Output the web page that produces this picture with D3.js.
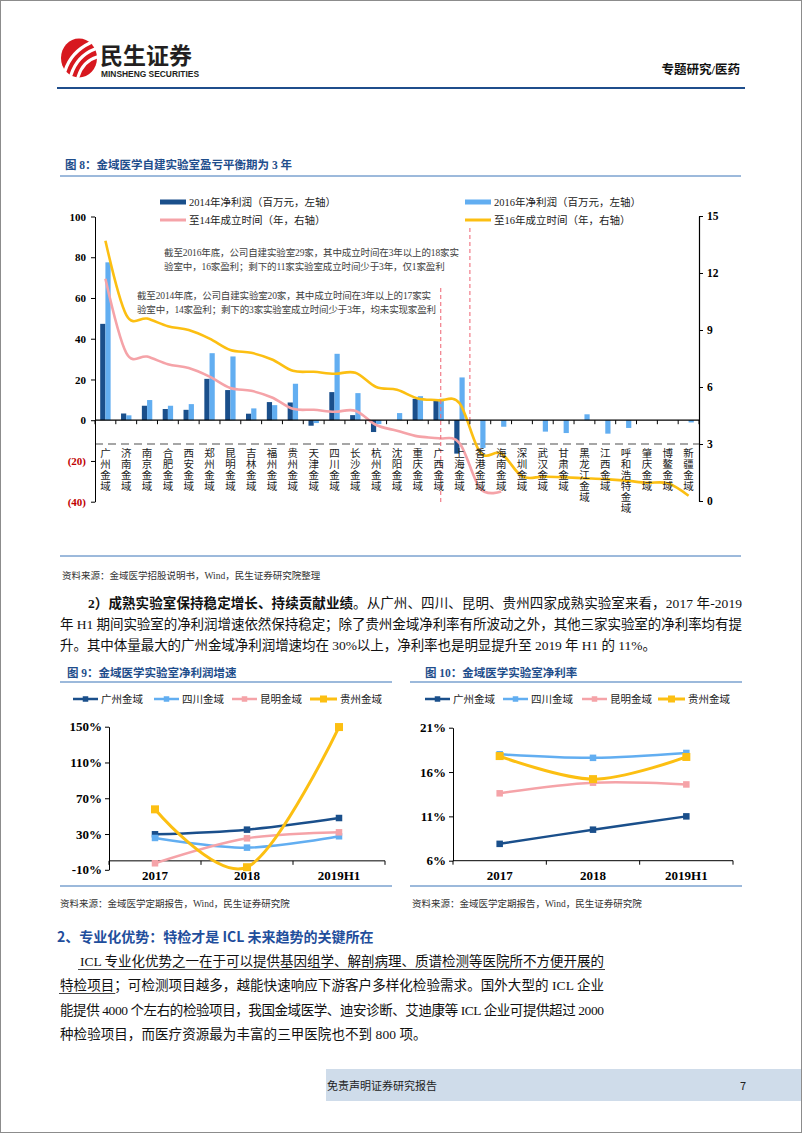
<!DOCTYPE html>
<html><head><meta charset="utf-8">
<script src="https://cdn.jsdelivr.net/npm/d3@7"></script>
<style>body{margin:0;background:#fff}svg{display:block}</style>
</head><body>
<svg id="page" width="802" height="1133"></svg>
<script>
// ---------------- DATA ----------------
const cats8 = ["广州金域","济南金域","南京金域","合肥金域","西安金域","郑州金域","昆明金域","吉林金域","福州金域","贵州金域","天津金域","四川金域","长沙金域","杭州金域","沈阳金域","重庆金域","广西金域","上海金域","香港金域","海南金域","深圳金域","武汉金域","甘肃金域","黑龙江金域","江西金域","呼和浩特金域","肇庆金域","博鳌金域","新疆金域"];
const profit2014 = [47.3,3.3,7.1,5.5,5.1,20.3,14.8,3.2,8.9,8.7,-2.7,13.8,2.5,-5.8,null,10.5,9.6,-16.4,null,null,null,null,null,null,null,null,null,null,null];
const profit2016 = [77.5,2.4,9.9,7.1,7.9,32.9,31.3,5.8,7.4,17.9,-1.4,32.6,13.3,-1.9,3.5,11.8,10.5,21.0,-13.6,-3.2,null,-5.6,-6.3,2.9,-6.6,-3.8,null,null,-1.1];
const years14 = [11.7,7.8,7.6,7.2,7.0,6.55,5.95,5.8,5.45,4.85,4.8,4.7,4.75,4.0,3.7,3.4,3.3,3.05,0.65,0.5];
const years16 = [13.7,9.8,9.6,9.2,9.0,8.55,7.95,7.8,7.45,6.85,6.8,6.7,6.75,6.0,5.85,5.4,5.3,5.15,2.55,2.5,1.3,1.28,1.25,1.2,1.15,1.07,0.96,0.93,0.28];
const leftTicks8 = [-40,-20,0,20,40,60,80,100];
const rightTicks8 = [0,3,6,9,12,15];
const legend8 = ["2014年净利润（百万元，左轴）","2016年净利润（百万元，左轴）","至14年成立时间（年，右轴）","至16年成立时间（年，右轴）"];

const periods = ["2017","2018","2019H1"];
const labs = ["广州金域","四川金域","昆明金域","贵州金域"];
const growthGuangzhou = [29.7,34.9,47.9];
const growthSichuan = [25.6,14.8,27.5];
const growthKunming = [-2.7,25.2,31.9];
const growthGuizhou = [57.6,-7.1,149.6];
const growthTicks = [-10,30,70,110,150];
const marginGuangzhou = [7.9,9.5,11.0];
const marginSichuan = [18.0,17.6,18.15];
const marginKunming = [13.6,14.8,14.6];
const marginGuizhou = [17.8,15.2,17.7];
const marginTicks = [6,11,16,21];

// ---------------- STYLE ----------------
const SERIF = '"Liberation Serif","Noto Sans CJK SC",serif';
const SANS = '"Noto Sans CJK SC","Liberation Sans",sans-serif';
const BLUE = '#1f4e8c';
const LINEBLUE = '#3a74b8';
const C_DARK = '#1a4f8b', C_LIGHT = '#62aef1', C_PINK = '#f5a3a8', C_YEL = '#fcbf12';
const seriesColors = [C_DARK, C_LIGHT, C_PINK, C_YEL];

const svg = d3.select('#page');
function justify(t, width){
  const node = t.node(); const n = node.getNumberOfChars(); const w = node.getComputedTextLength();
  t.style('letter-spacing', ((width - w)/(n-1)) + 'px');
}

// page border
svg.append('rect').attr('x',0.5).attr('y',0.5).attr('width',801).attr('height',1132)
  .attr('fill','none').attr('stroke','#8c8c8c');

// ---------------- HEADER ----------------
const hd = svg.append('g');
hd.append('ellipse').attr('cx',79).attr('cy',58).attr('rx',18).attr('ry',19.5).attr('fill','#d7181f');
[["M65,71 Q71,52 90,43",3.2],["M71,75 Q77,56 95,49",3.2],["M78,77 Q83,61 97,57",3]].forEach(p=>{
  hd.append('path').attr('d',p[0]).attr('stroke','#fff').attr('stroke-width',p[1]).attr('fill','none').attr('stroke-linecap','round');
});
hd.append('text').attr('x',100).attr('y',64).attr('font-family',SANS).attr('font-weight',700)
  .attr('font-size',23).attr('fill','#231f20').text('民生证券');
hd.append('text').attr('x',101).attr('y',77).attr('font-family','"Liberation Sans Narrow","Liberation Sans",sans-serif')
  .attr('font-weight',700).attr('font-size',8.5).attr('fill','#231f20').attr('textLength',98).attr('lengthAdjust','spacingAndGlyphs').text('MINSHENG SECURITIES');
hd.append('text').attr('x',740).attr('y',74).attr('text-anchor','end').attr('font-family',SERIF)
  .attr('font-weight',700).attr('font-size',12.5).attr('fill','#111').text('专题研究/医药');
hd.append('line').attr('x1',57).attr('x2',745).attr('y1',88).attr('y2',88).attr('stroke',BLUE).attr('stroke-width',2);

// ---------------- FIGURE 8 ----------------
svg.append('text').attr('x',65).attr('y',169).attr('font-family',SERIF).attr('font-weight',700)
  .attr('font-size',11.5).attr('fill',BLUE).text('图 8：金域医学自建实验室盈亏平衡期为 3 年');
svg.append('line').attr('x1',60).attr('x2',741).attr('y1',176).attr('y2',176).attr('stroke',LINEBLUE).attr('stroke-width',1);
svg.append('line').attr('x1',60).attr('x2',741).attr('y1',556).attr('y2',556).attr('stroke',LINEBLUE).attr('stroke-width',1);

const x8 = d3.scaleBand().domain(cats8).range([95,699]);
const bw = x8.bandwidth();
const yL = d3.scaleLinear().domain([-40,100]).range([501.7,216.5]);
const yR = d3.scaleLinear().domain([0,15]).range([501,216]);
const c8 = svg.append('g');
const barW = bw*0.25;

// bars
c8.selectAll('rect.b14').data(profit2014.map((v,i)=>({v,c:cats8[i]})).filter(d=>d.v!==null)).join('rect')
  .attr('x',d=>x8(d.c)+bw/2-barW).attr('width',barW)
  .attr('y',d=>yL(Math.max(0,d.v))).attr('height',d=>Math.abs(yL(d.v)-yL(0))).attr('fill',C_DARK);
c8.selectAll('rect.b16').data(profit2016.map((v,i)=>({v,c:cats8[i]})).filter(d=>d.v!==null)).join('rect')
  .attr('x',d=>x8(d.c)+bw/2).attr('width',barW)
  .attr('y',d=>yL(Math.max(0,d.v))).attr('height',d=>Math.abs(yL(d.v)-yL(0))).attr('fill',C_LIGHT);

// gray dashed 3-year line
c8.append('line').attr('x1',x8.range()[0]).attr('x2',x8.range()[1]).attr('y1',yR(3)).attr('y2',yR(3))
  .attr('stroke','#a6a6a6').attr('stroke-width',1.8).attr('stroke-dasharray','8,5');

// lines
const lineR = d3.line().x((d,i)=>x8(cats8[i])+bw/2).y(d=>yR(d)).curve(d3.curveCatmullRom.alpha(0));
c8.append('path').attr('d',lineR(years14)).attr('fill','none').attr('stroke',C_PINK).attr('stroke-width',2.6);
c8.append('path').attr('d',lineR(years16)).attr('fill','none').attr('stroke',C_YEL).attr('stroke-width',2.6);

// red dashed separators
c8.append('line').attr('x1',x8('广西金域')+bw*0.6).attr('x2',x8('广西金域')+bw*0.6).attr('y1',288).attr('y2',505)
  .attr('stroke','#f0707e').attr('stroke-width',1.1).attr('stroke-dasharray','4,3');
c8.append('line').attr('x1',x8('香港金域')).attr('x2',x8('香港金域')).attr('y1',228).attr('y2',yL(0))
  .attr('stroke','#f0707e').attr('stroke-width',1.1).attr('stroke-dasharray','4,3');

// x axis at zero
c8.append('line').attr('x1',x8.range()[0]).attr('x2',x8.range()[1]).attr('y1',yL(0)).attr('y2',yL(0)).attr('stroke','#000').attr('stroke-width',1.2);
c8.selectAll('line.xt').data(cats8.concat(['end'])).join('line')
  .attr('x1',d=>d==='end'?x8.range()[1]:x8(d)).attr('x2',d=>d==='end'?x8.range()[1]:x8(d))
  .attr('y1',yL(0)).attr('y2',yL(0)+4).attr('stroke','#000').attr('stroke-width',1);

// category labels (vertical)
cats8.forEach(c=>{
  const cx = x8(c)+bw/2;
  c8.append('text').attr('font-family',SERIF).attr('font-size',10.5).attr('fill','#222').attr('text-anchor','middle')
    .selectAll('tspan').data(Array.from(c)).join('tspan').attr('x',cx).attr('y',(d,i)=>457+i*11).text(d=>d);
});

// left axis
const axL = c8.append('g').attr('transform','translate(95,0)')
  .call(d3.axisLeft(yL).tickValues(leftTicks8).tickSize(4).tickSizeOuter(0).tickPadding(5)
    .tickFormat(d=>d<0?`(${-d})`:d));
axL.selectAll('text').attr('font-family',SERIF).attr('font-weight',700).attr('font-size',11)
  .attr('fill',d=>d<0?'#c00000':'#000');
axL.select('.domain').attr('stroke','#000');
// right axis
const axR = c8.append('g').attr('transform','translate(699,0)')
  .call(d3.axisRight(yR).tickValues(rightTicks8).tickSize(4).tickSizeOuter(0).tickPadding(4));
axR.selectAll('text').attr('font-family',SERIF).attr('font-weight',700).attr('font-size',11.5).attr('fill','#000');
axR.select('.domain').attr('stroke','#000').attr('stroke-width',1.2);

// legend
const lg = svg.append('g').attr('font-family',SERIF).attr('font-size',10.5).attr('fill','#222');
[[160,202,0],[465,202,1],[160,220,2],[465,220,3]].forEach(([lx,ly,k])=>{
  if(k<2) lg.append('rect').attr('x',lx).attr('y',ly-2.5).attr('width',26).attr('height',5).attr('fill',seriesColors[k===0?0:1]);
  else lg.append('line').attr('x1',lx).attr('x2',lx+26).attr('y1',ly).attr('y2',ly).attr('stroke',k===2?C_PINK:C_YEL).attr('stroke-width',3);
  lg.append('text').attr('x',lx+29).attr('y',ly+4).text(legend8[k]);
});

// annotations
const ann = svg.append('g').attr('font-family',SERIF).attr('font-size',9.5).attr('fill','#404040');
const a1 = ann.append('text').attr('x',164).attr('y',256).text('截至2016年底，公司自建实验室29家，其中成立时间在3年以上的18家实');
justify(a1, 295);
ann.append('text').attr('x',164).attr('y',270).style('letter-spacing',a1.style('letter-spacing')).text('验室中，16家盈利；剩下的11家实验室成立时间少于3年，仅1家盈利');
const a2 = ann.append('text').attr('x',137).attr('y',299).text('截至2014年底，公司自建实验室20家，其中成立时间在3年以上的17家实');
justify(a2, 294);
ann.append('text').attr('x',137).attr('y',313).style('letter-spacing',a2.style('letter-spacing')).text('验室中，14家盈利；剩下的3家实验室成立时间少于3年，均未实现家盈利');

svg.append('text').attr('x',62).attr('y',579).attr('font-family',SERIF).attr('font-size',9.5).attr('fill','#333')
  .text('资料来源：金域医学招股说明书，Wind，民生证券研究院整理');

// ---------------- PARAGRAPH 1 ----------------
const p1 = svg.append('g').attr('font-family',SERIF).attr('font-size',13.5).attr('fill','#111');
const l1 = p1.append('text').attr('x',88).attr('y',608);
l1.append('tspan').attr('font-weight',700).text('2）成熟实验室保持稳定增长、持续贡献业绩');
l1.append('tspan').text('。从广州、四川、昆明、贵州四家成熟实验室来看，2017 年-2019');
justify(l1, 742-88);
const l2 = p1.append('text').attr('x',60).attr('y',629).text('年 H1 期间实验室的净利润增速依然保持稳定；除了贵州金域净利率有所波动之外，其他三家实验室的净利率均有提');
justify(l2, 742-60);
const l3 = p1.append('text').attr('x',60).attr('y',650).text('升。其中体量最大的广州金域净利润增速均在 30%以上，净利率也是明显提升至 2019 年 H1 的 11%。');
l3.style('letter-spacing', l2.style('letter-spacing'));

// ---------------- SMALL LINE CHARTS ----------------
function smallChart(opt){
  const g = svg.append('g');
  g.append('text').attr('x',opt.titleX).attr('y',677).attr('font-family',SERIF).attr('font-weight',700)
    .attr('font-size',11.5).attr('fill',BLUE).text(opt.title);
  g.append('line').attr('x1',opt.frame[0]).attr('x2',opt.frame[1]).attr('y1',682).attr('y2',682).attr('stroke',LINEBLUE).attr('stroke-width',1.2);
  g.append('line').attr('x1',opt.frame[0]).attr('x2',opt.frame[1]).attr('y1',886).attr('y2',886).attr('stroke',LINEBLUE).attr('stroke-width',1.2);
  g.append('text').attr('x',opt.srcX).attr('y',907).attr('font-family',SERIF).attr('font-size',9.5).attr('fill','#333')
    .text('资料来源：金域医学定期报告，Wind，民生证券研究院');
  // legend
  opt.legendX.forEach((lx,k)=>{
    const w = k===3?27:25;
    g.append('line').attr('x1',lx).attr('x2',lx+w).attr('y1',699).attr('y2',699).attr('stroke',seriesColors[k]).attr('stroke-width',k===3?3:2.5);
    const s = k===3?7:5.5;
    g.append('rect').attr('x',lx+w/2-s/2).attr('y',699-s/2).attr('width',s).attr('height',s).attr('fill',seriesColors[k]);
    g.append('text').attr('x',lx+w+3).attr('y',703).attr('font-family',SERIF).attr('font-size',10.5).attr('fill','#222').text(labs[k]);
  });
  const x = d3.scaleBand().domain(periods).range(opt.xRange);
  const y = d3.scaleLinear().domain(opt.yDomain).range([opt.yBottom,opt.yTop]);
  const ay = g.append('g').attr('transform',`translate(${opt.xRange[0]},0)`)
    .call(d3.axisLeft(y).tickValues(opt.ticks).tickSize(4).tickSizeOuter(0).tickPadding(3).tickFormat(d=>d+'%'));
  ay.selectAll('text').attr('font-family',SERIF).attr('font-weight',700).attr('font-size',13).attr('fill','#000');
  const y0 = y(opt.xAt);
  g.append('line').attr('x1',opt.xRange[0]).attr('x2',opt.xRange[1]).attr('y1',y0).attr('y2',y0).attr('stroke','#000').attr('stroke-width',1);
  g.selectAll('line.t').data(periods.concat(['end'])).join('line')
    .attr('x1',d=>d==='end'?opt.xRange[1]:x(d)).attr('x2',d=>d==='end'?opt.xRange[1]:x(d))
    .attr('y1',y0).attr('y2',y0+4).attr('stroke','#000');
  g.selectAll('text.xl').data(periods).join('text').attr('x',d=>x(d)+x.bandwidth()/2).attr('y',880)
    .attr('text-anchor','middle').attr('font-family',SERIF).attr('font-weight',700).attr('font-size',13).text(d=>d);
  const ln = d3.line().x((d,i)=>x(periods[i])+x.bandwidth()/2).y(d=>y(d)).curve(d3.curveCatmullRom.alpha(0));
  opt.series.forEach((s,k)=>{
    g.append('path').attr('d',ln(s)).attr('fill','none').attr('stroke',seriesColors[k]).attr('stroke-width',k===3?3:2.5);
    const sz = k===3?8:6.5;
    g.selectAll(null).data(s).join('rect').attr('x',(d,i)=>x(periods[i])+x.bandwidth()/2-sz/2).attr('y',d=>y(d)-sz/2)
      .attr('width',sz).attr('height',sz).attr('fill',seriesColors[k]);
  });
}
smallChart({title:'图 9：金域医学实验室净利润增速', titleX:67, frame:[60,392], srcX:60,
  legendX:[73,154,232,310], xRange:[109,385], yDomain:[-10,150], yBottom:869.8, yTop:726.7,
  ticks:growthTicks, xAt:0, series:[growthGuangzhou,growthSichuan,growthKunming,growthGuizhou]});
smallChart({title:'图 10：金域医学实验室净利率', titleX:425, frame:[410,742], srcX:412,
  legendX:[425,503,582,658], xRange:[453,733], yDomain:[6,21], yBottom:860.7, yTop:727.7,
  ticks:marginTicks, xAt:6, series:[marginGuangzhou,marginSichuan,marginKunming,marginGuizhou]});

// ---------------- SECTION 2 ----------------
svg.append('text').attr('x',57).attr('y',942).attr('font-family',SANS).attr('font-weight',700)
  .attr('font-size',14).attr('fill','#1f4e9c').text('2、专业化优势：特检才是 ICL 未来趋势的关键所在');
const p2 = svg.append('g').attr('font-family',SERIF).attr('font-size',13.5).attr('fill','#111');
const m1 = p2.append('text').attr('x',80).attr('y',966).text('ICL 专业化优势之一在于可以提供基因组学、解剖病理、质谱检测等医院所不方便开展的');
justify(m1, 604-80);
p2.append('line').attr('x1',78).attr('x2',605).attr('y1',969.5).attr('y2',969.5).attr('stroke','#444').attr('stroke-width',1);
const m2 = p2.append('text').attr('x',60).attr('y',990).text('特检项目；可检测项目越多，越能快速响应下游客户多样化检验需求。国外大型的 ICL 企业');
justify(m2, 604-60);
const ext = m2.node().getExtentOfChar(3);
p2.append('line').attr('x1',59).attr('x2',ext.x+ext.width+1).attr('y1',993.5).attr('y2',993.5).attr('stroke','#444').attr('stroke-width',1);
const m3 = p2.append('text').attr('x',60).attr('y',1015).text('能提供 4000 个左右的检验项目，我国金域医学、迪安诊断、艾迪康等 ICL 企业可提供超过 2000');
justify(m3, 604-60);
p2.append('text').attr('x',60).attr('y',1039).style('letter-spacing',m2.style('letter-spacing')).text('种检验项目，而医疗资源最为丰富的三甲医院也不到 800 项。');

// ---------------- FOOTER ----------------
svg.append('rect').attr('x',326).attr('y',1069).attr('width',475).attr('height',32).attr('fill','#cfdcea');
svg.append('text').attr('x',327).attr('y',1090).attr('font-family',SANS).attr('font-size',11).attr('fill','#222').text('免责声明证券研究报告');
svg.append('text').attr('x',740).attr('y',1090).attr('font-family',SANS).attr('font-size',11).attr('fill','#222').text('7');
</script>
</body></html>
